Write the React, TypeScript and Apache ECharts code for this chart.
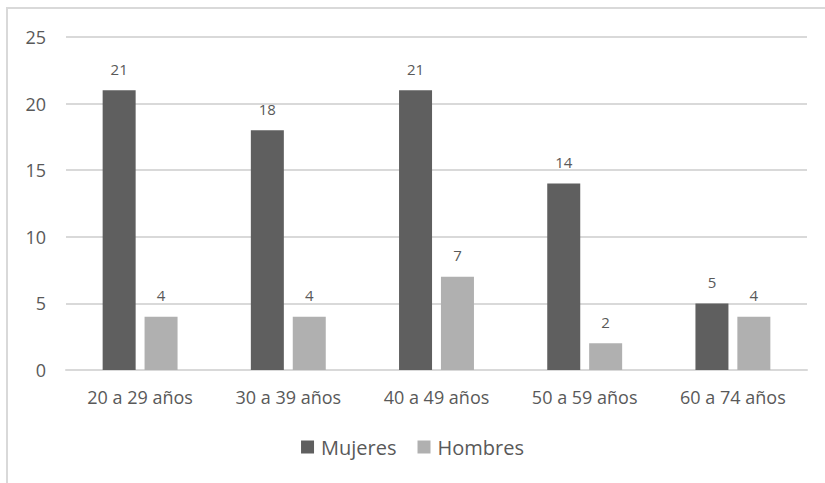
import React, { useEffect, useRef } from "react";
import * as echarts from "echarts";

const categories = ["20 a 29 años", "30 a 39 años", "40 a 49 años", "50 a 59 años", "60 a 74 años"];
const mujeres = [21, 18, 21, 14, 5];
const hombres = [4, 4, 7, 2, 4];
const yTicks = [0, 5, 10, 15, 20, 25];

const FONT = "Open Sans";
const TXT = "#595959";

export default function App() {
  const ref = useRef<HTMLDivElement>(null);
  useEffect(() => {
    const chart = echarts.init(ref.current!, undefined, { renderer: "svg" });
    chart.setOption({
      animation: false,
      backgroundColor: "#ffffff",
      textStyle: { fontFamily: FONT },
      graphic: [
        {
          type: "rect",
          shape: { x: 7, y: 8, width: 840, height: 500 },
          style: { fill: "none", stroke: "#d9d9d9", lineWidth: 2 },
          silent: true,
        },
      ],
      grid: { left: 66, right: 18, top: 37, bottom: 113, containLabel: false },
      legend: {
        bottom: 21,
        left: "center",
        itemWidth: 13,
        itemHeight: 13,
        itemGap: 21,
        icon: "rect",
        textStyle: { color: TXT, fontSize: 20, fontFamily: FONT, padding: [0, 0, 0, 2] },
        data: ["Mujeres", "Hombres"],
      },
      xAxis: {
        type: "category",
        data: categories,
        axisLine: { lineStyle: { color: "#d9d9d9", width: 2 } },
        axisTick: { show: false },
        axisLabel: { color: TXT, fontSize: 18, margin: 18, fontFamily: FONT },
      },
      yAxis: {
        type: "value",
        min: yTicks[0],
        max: yTicks[yTicks.length - 1],
        interval: 5,
        axisLine: { show: false },
        axisTick: { show: false },
        splitLine: { lineStyle: { color: "#d9d9d9", width: 2 } },
        axisLabel: { color: TXT, fontSize: 18, margin: 20, fontFamily: FONT },
      },
      series: [
        {
          name: "Mujeres",
          type: "bar",
          data: mujeres,
          barWidth: 33,
          barGap: "27%",
          itemStyle: { color: "#5f5f5f" },
          label: { show: true, position: "top", distance: 14, color: TXT, fontSize: 15, fontFamily: FONT },
        },
        {
          name: "Hombres",
          type: "bar",
          data: hombres,
          barWidth: 33,
          itemStyle: { color: "#b0b0b0" },
          label: { show: true, position: "top", distance: 14, color: TXT, fontSize: 15, fontFamily: FONT },
        },
      ],
    });
    return () => chart.dispose();
  }, []);
  return <div ref={ref} style={{ position: "fixed", left: 0, top: 0, width: 825, height: 483 }} />;
}
